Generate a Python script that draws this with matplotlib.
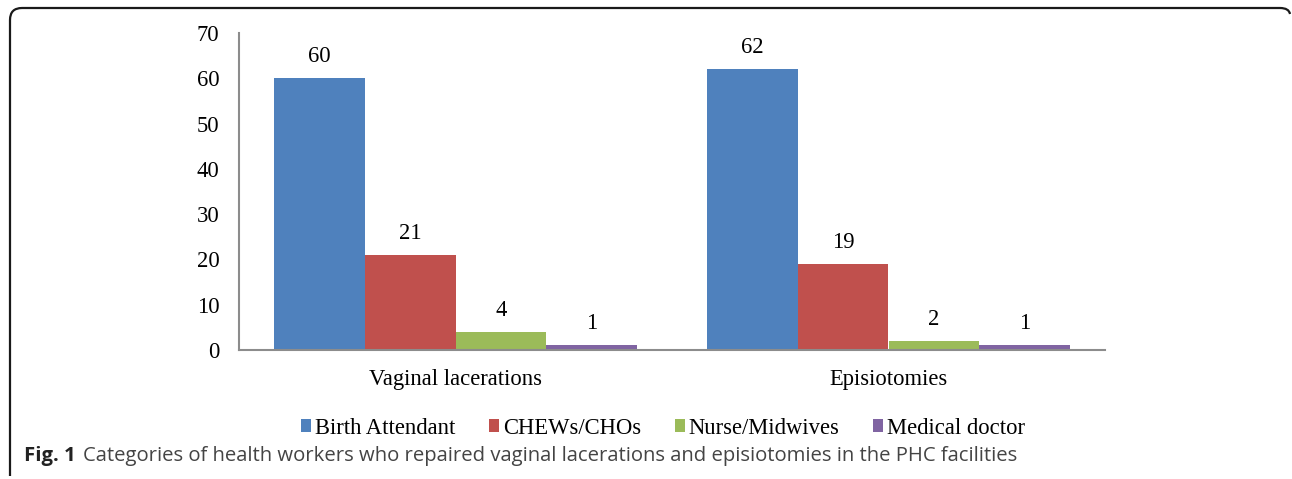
import matplotlib.pyplot as plt
import numpy as np
from matplotlib.path import Path
from matplotlib.patches import PathPatch

CATEGORIES = ["Vaginal lacerations", "Episiotomies"]
WORKERS = ["Birth Attendant", "CHEWs/CHOs", "Nurse/Midwives", "Medical doctor"]
COUNTS = {
    "Birth Attendant": [60, 62],
    "CHEWs/CHOs": [21, 19],
    "Nurse/Midwives": [4, 2],
    "Medical doctor": [1, 1],
}
COLORS = ["#4F81BD", "#C0504D", "#9BBB59", "#8064A2"]
CAPTION_BOLD = "Fig. 1"
CAPTION = "Categories of health workers who repaired vaginal lacerations and episiotomies in the PHC facilities"

W, H = 1292, 479
SERIF = ["Liberation Serif", "DejaVu Serif"]
AXIS_GRAY = "#8C8C8C"
FS = 16.3

fig = plt.figure(figsize=(W / 100, H / 100), dpi=100)
ax = fig.add_axes((239 / W, 1 - 350 / H, 866 / W, 317 / H))

x = np.arange(len(CATEGORIES))
width = 0.21
for i, (name, color) in enumerate(zip(WORKERS, COLORS)):
    offset = (i - 1.5) * width
    bars = ax.bar(x + offset, COUNTS[name], width, color=color, label=name, zorder=2)
    ax.bar_label(bars, padding=8, fontsize=FS, family=SERIF)

ax.set_xlim(-0.5, 1.5)
ax.set_ylim(0, 70)
ax.set_yticks(range(0, 71, 10))
ax.set_xticks(x)
ax.set_xticklabels(CATEGORIES)
for lab in ax.get_xticklabels() + ax.get_yticklabels():
    lab.set_family(SERIF)
    lab.set_fontsize(FS)
ax.tick_params(axis="both", length=0)
ax.tick_params(axis="y", pad=14)
ax.tick_params(axis="x", pad=14)

for side in ("top", "right"):
    ax.spines[side].set_visible(False)
for side in ("left", "bottom"):
    ax.spines[side].set_color(AXIS_GRAY)
    ax.spines[side].set_linewidth(1.5)

fig.legend(
    loc="center",
    bbox_to_anchor=(663 / W, 1 - 428 / H),
    ncols=4,
    frameon=False,
    prop={"family": SERIF, "size": FS},
    handlelength=0.45,
    handleheight=0.45,
    handletextpad=0.15,
    columnspacing=1.5,
)

# caption
t1 = fig.text(24 / W, 1 - 456 / H, CAPTION_BOLD, fontsize=14.6, fontweight="bold",
              family="Open Sans", color="#222222", va="center")
plt.annotate(CAPTION, xy=(1, 0.5), xycoords=t1, xytext=(5, 0),
             textcoords="offset points", va="center", fontsize=14.6,
             family="Open Sans", color="#444444", annotation_clip=False)

# rounded frame around the figure panel
def px(xp, yp):
    return (xp / W, 1 - yp / H)

verts = [px(10, 476), px(10, 20), px(10, 8), px(22, 8), px(1280, 8), px(1289, 8), px(1290, 14)]
codes = [Path.MOVETO, Path.LINETO, Path.CURVE3, Path.CURVE3, Path.LINETO, Path.CURVE3, Path.CURVE3]
frame = PathPatch(Path(verts, codes), transform=fig.transFigure, fill=False,
                  edgecolor="#1a1a1a", linewidth=1.6)
fig.add_artist(frame)

fig.savefig("out.png", dpi=100)
